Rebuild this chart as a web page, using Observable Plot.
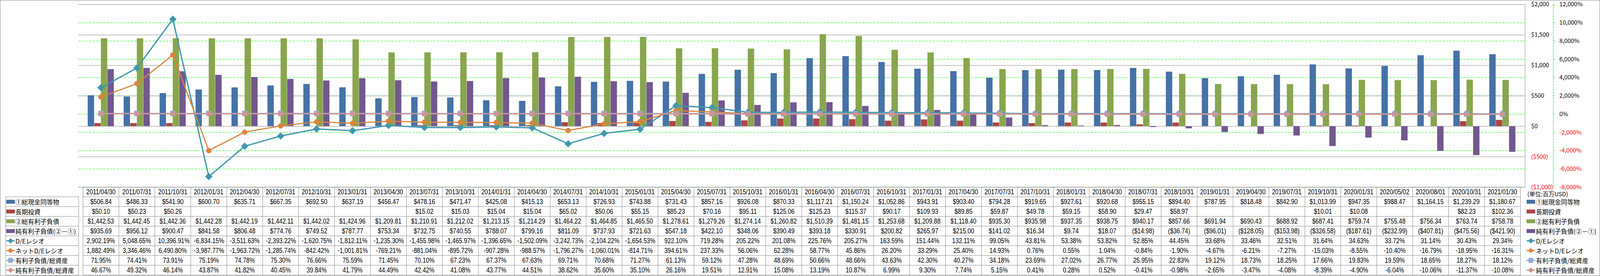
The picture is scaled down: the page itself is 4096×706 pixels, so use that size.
<!DOCTYPE html>
<html><head><meta charset="utf-8">
<script src="https://cdn.jsdelivr.net/npm/d3@7"></script>
<script src="https://cdn.jsdelivr.net/npm/@observablehq/plot@0.6"></script>
<style>
html,body{margin:0;padding:0;background:#fff;}
#wrap{position:relative;width:4096px;height:706px;overflow:hidden;background:#fff;}
#wrap svg.layer{position:absolute;left:0;top:0;}
.cell{position:absolute;box-sizing:border-box;border:1px solid #8c8c8c;text-align:center;font-family:"Liberation Sans","Arial",sans-serif;font-size:18px;color:#000;white-space:nowrap;overflow:visible;}
.cell span{display:inline-block;transform:scaleX(0.84);transform-origin:50% 50%;}
.lab{position:absolute;font-family:"Noto Sans CJK JP",sans-serif;font-size:16px;color:#000;white-space:nowrap;line-height:20px;}
.key{position:absolute;}
#border{position:absolute;left:0;top:0;width:4096px;height:706px;box-sizing:border-box;border:1px solid #868686;pointer-events:none;}
</style></head><body><div id="wrap"></div>
<script>
// ---- data ----
const dates = ["2011/04/30","2011/07/31","2011/10/31","2012/01/31","2012/04/30","2012/07/31","2012/10/31","2013/01/31","2013/04/30","2013/07/31","2013/10/31","2014/01/31","2014/04/30","2014/07/31","2014/10/31","2015/01/31","2015/04/30","2015/07/31","2015/10/31","2016/01/31","2016/04/30","2016/07/31","2016/10/31","2017/01/31","2017/04/30","2017/07/31","2017/10/31","2018/01/31","2018/04/30","2018/07/31","2018/10/31","2019/01/31","2019/04/30","2019/07/31","2019/10/31","2020/01/31","2020/05/02","2020/08/01","2020/10/31","2021/01/30"];
const cash = [506.84,486.33,541.90,600.70,635.71,667.35,692.50,637.19,456.47,478.16,471.47,425.08,415.13,653.13,726.93,743.88,731.43,857.16,926.08,870.33,1117.21,1150.24,1052.86,943.91,903.40,794.28,919.65,927.61,920.68,955.15,894.40,787.95,818.48,842.90,1013.99,947.35,988.47,1164.15,1239.29,1180.67];
const longInv = [50.10,50.23,50.26,null,null,null,null,null,null,15.02,15.03,15.04,15.04,65.02,50.06,55.15,85.23,70.16,95.11,125.06,125.23,115.37,90.17,109.93,89.85,59.87,49.78,59.15,58.90,29.47,58.97,null,null,null,10.01,10.08,null,null,82.23,102.36];
const debt = [1442.53,1442.45,1442.36,1442.28,1442.19,1442.11,1442.02,1424.96,1209.81,1210.91,1212.02,1213.15,1214.29,1464.22,1464.85,1465.50,1278.61,1279.26,1274.14,1260.82,1510.39,1481.15,1253.68,1209.88,1118.40,935.30,935.98,937.35,938.75,940.17,857.66,691.94,690.43,688.92,687.41,759.74,755.48,756.34,763.74,758.78];
const netDebt = [935.69,956.12,900.47,841.58,806.48,774.76,749.52,787.77,753.34,732.75,740.55,788.07,799.16,811.09,737.93,721.63,547.18,422.10,348.06,390.49,393.18,330.91,200.82,265.97,215.00,141.02,16.34,9.74,18.07,-14.98,-36.74,-96.01,-128.05,-153.98,-326.58,-187.61,-232.99,-407.81,-475.56,-421.90];
const deRatio = [2902.19,5048.65,10396.91,-6834.15,-3511.63,-2393.22,-1620.75,-1812.11,-1235.30,-1455.98,-1465.97,-1396.65,-1502.09,-3242.73,-2104.22,-1654.53,922.10,719.28,205.22,201.08,225.76,205.27,163.59,151.44,132.11,99.05,43.81,53.38,53.82,52.85,44.45,33.68,33.46,32.51,31.64,34.63,33.72,31.14,30.43,29.34];
const netDeRatio = [1882.49,3346.46,6490.80,-3987.77,-1963.72,-1285.74,-842.42,-1001.81,-769.21,-881.04,-895.72,-907.28,-988.57,-1796.27,-1060.01,-814.71,394.61,237.33,56.06,62.28,58.77,45.86,26.20,33.29,25.40,14.93,0.76,0.55,1.04,-0.84,-1.90,-4.67,-6.21,-7.27,-15.03,-8.55,-10.40,-16.79,-18.95,-16.31];
const debtToAssets = [71.95,74.41,73.91,75.19,74.78,75.30,76.66,75.59,71.45,70.10,67.23,67.37,67.63,69.71,70.68,71.27,61.13,59.12,47.28,48.69,50.66,48.66,43.63,42.30,40.27,34.18,23.69,27.02,26.77,25.95,22.83,19.12,18.73,18.25,17.66,19.83,19.59,18.65,18.27,18.12];
const netDebtToAssets = [46.67,49.32,46.14,43.87,41.82,40.45,39.84,41.79,44.49,42.42,41.08,43.77,44.51,38.62,35.60,35.10,26.16,19.51,12.91,15.08,13.19,10.87,6.99,9.30,7.74,5.15,0.41,0.28,0.52,-0.41,-0.98,-2.65,-3.47,-4.08,-8.39,-4.90,-6.04,-10.06,-11.37,-10.08];
const usdTicks = [-1000,-500,0,500,1000,1500,2000];
const pctTicks = [-8000,-6000,-4000,-2000,0,2000,4000,6000,8000,10000,12000];
const seriesNames = ["①総現金同等物","長期投資","②総有利子負債","純有利子負債(②－①)","D/Eレシオ","ネットD/Eレシオ","有利子負債/総資産","純有利子負債/総資産"];
const unitLabel = "(単位:百万USD)";

// ---- styles ----
const colors = ["#4572A7","#AA4643","#89A54E","#71588F","#4198AF","#DB843D","#93A9CF","#D19392"];
const W = 4096, PH = 490;
const mL = 200.6, mR = W - 3903.7, mT = 11.1, mB = PH - 478.4;
const fmt2 = d3.format(",.2f"), fmt0 = d3.format(",");
const fmtUsd = v => v < 0 ? `($${fmt0(-v)})` : `$${fmt0(v)}`;
const fmtPct = v => (v < 0 ? "-" : "") + fmt0(Math.abs(v)) + "%";
const cellUsd = v => v == null ? "" : (v < 0 ? `($${fmt2(-v)})` : `$${fmt2(v)}`);
const cellPct = v => v == null ? "" : (v < 0 ? "-" : "") + fmt2(Math.abs(v)) + "%";

const common = {
  width: W, height: PH, marginLeft: mL, marginRight: mR, marginTop: mT, marginBottom: mB,
  x: {type: "band", domain: dates, padding: 0, axis: null},
  style: {background: "transparent", fontFamily: "'Noto Sans CJK JP', sans-serif", fontSize: "15px", color: "#000", overflow: "visible"}
};
const rowsOf = arr => dates.map((d, j) => ({date: d, v: arr[j]})).filter(r => r.v != null);

// layer 1: secondary (%) grid + axis
const AXDX = 72.3;
const plotB0 = Plot.plot({...common,
  y: {domain: [-8000, 12000]},
  marks: [
    Plot.gridY(pctTicks, {stroke: "#00FF00", strokeOpacity: 1, strokeWidth: 1, strokeDasharray: "6,3"}),
    Plot.frame({anchor: "right", dx: AXDX, stroke: "#00FF00", strokeWidth: 1.2, strokeDasharray: "4,3"}),
    Plot.axisY(pctTicks.filter(v => v >= 0), {anchor: "right", dx: AXDX, tickSize: 3.3, tickPadding: 12.3, stroke: "#00FF00", fill: "#000", tickFormat: fmtPct, label: null, fontSize: 15}),
    Plot.axisY(pctTicks.filter(v => v < 0), {anchor: "right", dx: AXDX, tickSize: 3.3, tickPadding: 12.3, stroke: "#00FF00", fill: "#FF0000", tickFormat: fmtPct, label: null, fontSize: 15})
  ]
});

// layer 2: bars on $ scale
const B = (3903.7 - 200.6) / dates.length;
const bw = 16.85, gap = (B - 4 * bw) / 2;
const barSeries = [cash, longInv, debt, netDebt];
const plotA = Plot.plot({...common,
  y: {domain: [-1000, 2000]},
  marks: [
    Plot.gridY(usdTicks, {stroke: "#8c8c8c", strokeOpacity: 1, strokeWidth: 1}),
    ...barSeries.map((arr, i) => Plot.barY(rowsOf(arr), {x: "date", y: "v", fill: colors[i], insetLeft: gap + i * bw, insetRight: B - gap - (i + 1) * bw})),
    Plot.frame({anchor: "right", stroke: "#8c8c8c", strokeWidth: 1}),
    Plot.axisY(usdTicks.filter(v => v >= 0), {anchor: "right", tickSize: 0, tickPadding: 15.6, fill: "#000", tickFormat: fmtUsd, label: null, fontSize: 15}),
    Plot.axisY(usdTicks.filter(v => v < 0), {anchor: "right", tickSize: 0, tickPadding: 15.6, fill: "#FF0000", tickFormat: fmtUsd, label: null, fontSize: 15})
  ]
});

// layer 3: ratio lines on % scale
const lineSeries = [
  {arr: deRatio, c: colors[4], sym: "diamond2", r: 8, sw: 3.3},
  {arr: netDeRatio, c: colors[5], sym: "circle", r: 6.4, sw: 2.9},
  {arr: debtToAssets, c: colors[6], sym: "square", r: 7.2, sw: 3},
  {arr: netDebtToAssets, c: colors[7], sym: "diamond2", r: 6.8, sw: 3}
];
const plotB = Plot.plot({...common,
  y: {domain: [-8000, 12000], axis: null},
  marks: lineSeries.flatMap(s => [
    Plot.line(rowsOf(s.arr), {x: "date", y: "v", stroke: s.c, strokeWidth: s.sw}),
    Plot.dot(rowsOf(s.arr), {x: "date", y: "v", symbol: s.sym, r: s.r, fill: s.c, stroke: s.c, strokeWidth: 1})
  ])
});

const wrap = document.getElementById("wrap");
for (const p of [plotB0, plotA, plotB]) { p.classList.add("layer"); wrap.appendChild(p); }

// ---- data table (positions from Plot's x scale) ----
const xs = plotA.scale("x");
const bandW = xs.bandwidth;
const tableTop = 478.4, rowH = 25.0, labelLeft = 13.6;
function el(tag, cls, css, html) {
  const e = document.createElement(tag);
  if (cls) e.className = cls;
  Object.assign(e.style, css);
  if (html != null) e.innerHTML = html;
  wrap.appendChild(e);
  return e;
}
function keySvg(i) {
  const c = colors[i];
  if (i < 4) return `<svg width="22" height="14"><rect x="0" y="2" width="22" height="10" fill="${c}"/></svg>`;
  let m = "";
  if (i === 4) m = `<polygon points="11,0 18,7 11,14 4,7" fill="${c}"/>`;
  if (i === 5) m = `<circle cx="11" cy="7" r="5.5" fill="${c}"/>`;
  if (i === 6) m = `<rect x="5" y="1" width="12" height="12" fill="${c}"/>`;
  if (i === 7) m = `<polygon points="11,0 18,7 11,14 4,7" fill="${c}"/>`;
  return `<svg width="22" height="14"><line x1="0" y1="7" x2="22" y2="7" stroke="${c}" stroke-width="3"/>${m}</svg>`;
}
const cellCss = (left, top, width) => ({left: left + "px", top: top + "px", width: width + "px", height: (rowH + 1) + "px", lineHeight: (rowH - 1) + "px"});
// header row
dates.forEach(d => {
  el("div", "cell", cellCss(xs.apply(d), tableTop, bandW + 1), `<span>${d}</span>`);
});
const tableRows = [
  {arr: cash, f: cellUsd}, {arr: longInv, f: cellUsd}, {arr: debt, f: cellUsd}, {arr: netDebt, f: cellUsd},
  {arr: deRatio, f: cellPct}, {arr: netDeRatio, f: cellPct}, {arr: debtToAssets, f: cellPct}, {arr: netDebtToAssets, f: cellPct}
];
tableRows.forEach((row, r) => {
  const top = tableTop + rowH * (r + 1);
  el("div", "cell", cellCss(labelLeft, top, mL - labelLeft + 1), "");
  el("div", "key", {left: "16.4px", top: (top + rowH / 2 - 7) + "px", width: "22px", height: "14px"}, keySvg(r));
  el("div", "lab", {left: "39.5px", top: (top + rowH / 2 - 10) + "px"}, seriesNames[r]);
  dates.forEach((d, j) => {
    el("div", "cell", cellCss(xs.apply(d), top, bandW + 1), `<span>${row.f(row.arr[j])}</span>`);
  });
  // right-hand legend
  el("div", "key", {left: "3908px", top: (top + rowH / 2 - 7) + "px", width: "22px", height: "14px"}, keySvg(r));
  el("div", "lab", {left: "3932px", top: (top + rowH / 2 - 10) + "px"}, seriesNames[r]);
});
el("div", "lab", {left: "3910px", top: (tableTop + rowH / 2 + 5 - 10) + "px", fontSize: "15px"}, unitLabel);
el("div", null, {}, "").id = "border";
</script></body></html>
